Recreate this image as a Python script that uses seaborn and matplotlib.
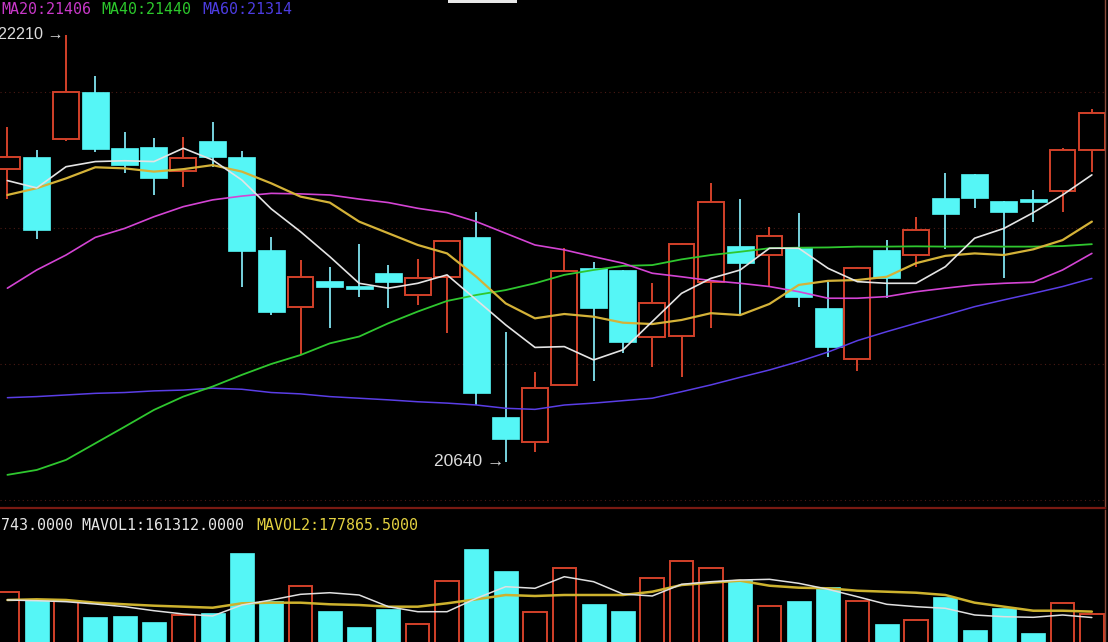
import numpy as np
import pandas as pd
import matplotlib
matplotlib.use("Agg")
import matplotlib.pyplot as plt
import seaborn as sns
from matplotlib.patches import Rectangle

# ---- data ----
open_ = [21717, 21762, 21827, 22000, 21794, 21799, 21710, 21821, 21762, 21419,
         21210, 21306, 21287, 21333, 21253, 21320, 21467, 20805, 20713, 20922,
         21351, 21345, 21097, 21102, 21302, 21433, 21400, 21427, 21204, 21016,
         21419, 21400, 21611, 21697, 21600, 21605, 21636, 21787]
high = [21872, 21787, 22210, 22060, 21852, 21832, 21836, 21890, 21784, 21467,
        21382, 21357, 21441, 21363, 21384, 21455, 21557, 21118, 20971, 21427,
        21376, 21345, 21296, 21445, 21664, 21606, 21502, 21554, 21302, 21355,
        21455, 21541, 21703, 21697, 21600, 21639, 21793, 21936]
low = [21606, 21459, 21821, 21780, 21701, 21621, 21652, 21725, 21283, 21179,
       21032, 21130, 21247, 21204, 21216, 21112, 20848, 20640, 20676, 20922,
       20938, 21038, 20989, 20952, 21130, 21179, 21283, 21210, 21024, 20974,
       21241, 21357, 21421, 21572, 21314, 21523, 21560, 21706]
close = [21762, 21492, 22000, 21790, 21731, 21682, 21756, 21760, 21416, 21192,
         21320, 21283, 21274, 21300, 21317, 21453, 20893, 20722, 20910, 21342,
         21204, 21081, 21225, 21440, 21594, 21370, 21471, 21247, 21063, 21351,
         21314, 21492, 21551, 21609, 21560, 21596, 21787, 21922]

ma5 = [21674, 21647, 21725, 21744, 21747, 21744, 21793, 21750, 21676, 21570,
       21486, 21394, 21296, 21278, 21296, 21327, 21235, 21143, 21060, 21063,
       21014, 21051, 21155, 21259, 21314, 21345, 21425, 21425, 21351, 21302,
       21296, 21296, 21357, 21462, 21498, 21556, 21621, 21695]
ma10 = [21621, 21646, 21682, 21723, 21719, 21707, 21716, 21731, 21707, 21664,
        21615, 21593, 21523, 21480, 21437, 21406, 21320, 21222, 21167, 21183,
        21173, 21151, 21146, 21161, 21186, 21179, 21220, 21290, 21305, 21308,
        21320, 21370, 21397, 21406, 21400, 21421, 21455, 21523]
ma20 = [21278, 21345, 21400, 21465, 21498, 21541, 21578, 21603, 21617, 21627,
        21625, 21621, 21606, 21593, 21572, 21556, 21523, 21480, 21437, 21419,
        21394, 21370, 21333, 21320, 21306, 21296, 21284, 21265, 21241, 21241,
        21247, 21265, 21278, 21290, 21296, 21300, 21345, 21406]
ma40 = [20591, 20609, 20646, 20707, 20768, 20830, 20879, 20916, 20959, 20999,
        21032, 21075, 21100, 21149, 21192, 21231, 21253, 21271, 21296, 21327,
        21345, 21360, 21363, 21384, 21400, 21412, 21425, 21427, 21428, 21431,
        21431, 21432, 21431, 21432, 21431, 21431, 21433, 21440]
ma60 = [20875, 20879, 20885, 20891, 20894, 20900, 20903, 20910, 20906, 20894,
        20889, 20879, 20873, 20867, 20860, 20855, 20848, 20836, 20832, 20848,
        20855, 20864, 20873, 20897, 20922, 20950, 20977, 21008, 21043, 21085,
        21118, 21149, 21179, 21210, 21235, 21259, 21284, 21314]

volume = [232000, 212400, 207600, 161900, 166400, 149600, 168400, 174800, 341500, 208500,
          250600, 179600, 133800, 185200, 142300, 264600, 352700, 292700, 175900, 299400,
          199200, 179600, 271300, 320700, 299400, 266600, 193600, 207600, 246100, 207600,
          142300, 154300, 219700, 126300, 187200, 117000, 202900, 171200]
mavol1 = [210500, 208500, 205700, 199200, 191700, 180400, 171200, 165600, 196400, 210500,
          226400, 230900, 224500, 191700, 177600, 177600, 215200, 247800, 243300, 275800,
          261800, 227300, 221700, 254500, 261800, 266600, 268500, 257300, 240500, 219700,
          198400, 191700, 187200, 168400, 163600, 161900, 168400, 161312]
mavol2 = [210500, 212400, 210500, 202900, 198400, 194500, 191700, 188800, 201200, 202900,
          202900, 198400, 196400, 191700, 191700, 201200, 212400, 224500, 221700, 224500,
          224500, 224500, 233700, 252500, 259000, 264600, 250600, 245000, 243300, 236500,
          233700, 230900, 224500, 202900, 191700, 180400, 180400, 177865.5]

grid_levels = [22000, 21500, 21000, 20500]
ma_labels = ["MA20:21406", "MA40:21440", "MA60:21314"]
vol_label_1 = "743.0000 MAVOL1:161312.0000"
vol_label_2 = "MAVOL2:177865.5000"
high_label = "22210 \u2192"
low_label = "20640 \u2192"

# ---- style ----
sns.set_style("dark", {"axes.facecolor": "black", "figure.facecolor": "black"})
plt.rcParams["font.family"] = ["DejaVu Sans"]

CYAN = "#55f6f6"
CYAN_WICK = "#78d2de"
RED = "#d2412a"
BORDER = "#7a1a12"

df = pd.DataFrame({"i": np.arange(len(close)), "open": open_, "high": high,
                   "low": low, "close": close, "ma5": ma5, "ma10": ma10,
                   "ma20": ma20, "ma40": ma40, "ma60": ma60, "vol": volume,
                   "mavol1": mavol1, "mavol2": mavol2})
up = df["close"] >= df["open"]
dn = ~up

W, H = 1108, 642
fig = plt.figure(figsize=(W / 100, H / 100), dpi=100)
fig.patch.set_facecolor("black")
ax = fig.add_axes([0, 1 - 508 / H, 1105 / W, 508 / H])
axv = fig.add_axes([0, 0, 1105 / W, 132 / H])

xl = (-0.2525, 37.448)

# ---- price panel ----
for g in grid_levels:
    ax.axhline(g, color="#4a1a14", lw=0.8, ls=(0, (1, 3)), zorder=0)

ax.vlines(df.loc[dn, "i"], df.loc[dn, "low"], df.loc[dn, "high"], color=CYAN_WICK, lw=1.4, zorder=1)
ax.vlines(df.loc[up, "i"], df.loc[up, "close"], df.loc[up, "high"], color=RED, lw=1.4, zorder=1)
ax.vlines(df.loc[up, "i"], df.loc[up, "low"], df.loc[up, "open"], color=RED, lw=1.4, zorder=1)
ax.bar(df.loc[dn, "i"], df.loc[dn, "open"] - df.loc[dn, "close"], bottom=df.loc[dn, "close"],
       width=0.92, color=CYAN, edgecolor=CYAN, lw=0.5, zorder=2)
ax.bar(df.loc[up, "i"], df.loc[up, "close"] - df.loc[up, "open"], bottom=df.loc[up, "open"],
       width=0.88, facecolor="black", edgecolor=RED, lw=1.4, zorder=2)

for col, c, lw in [("ma60", "#5a3ee6", 1.1), ("ma40", "#2fc72f", 1.3), ("ma20", "#d444d4", 1.2),
                   ("ma10", "#d4b238", 1.6), ("ma5", "#e4e4e4", 1.2)]:
    sns.lineplot(data=df, x="i", y=col, color=c, lw=lw, ax=ax, zorder=3, legend=False)

ax.annotate(high_label, xy=(2, 22210), xytext=(-1.5, 0), textcoords="offset points",
            ha="right", va="center", color="#dcdcdc", fontsize=11.6,
            family=["Liberation Sans", "DejaVu Sans"], zorder=5)
ax.annotate(low_label, xy=(17, 20640), xytext=(-1, 0), textcoords="offset points",
            ha="right", va="center", color="#dcdcdc", fontsize=12.5,
            family=["Liberation Sans", "DejaVu Sans"], zorder=5)

ax.set_xlim(*xl)
ax.set_ylim(20469, 22338.6)
ax.set_xticks([]); ax.set_yticks([])
ax.set_xlabel(""); ax.set_ylabel("")
for s in ["top", "left"]:
    ax.spines[s].set_visible(False)
ax.spines["bottom"].set_color(BORDER); ax.spines["bottom"].set_linewidth(1.6)
ax.spines["right"].set_color("#8a4a3a"); ax.spines["right"].set_linewidth(1.0)

# ---- volume panel ----
axv.bar(df.loc[dn, "i"], df.loc[dn, "vol"], width=0.82, color=CYAN, edgecolor=CYAN, lw=0.5, zorder=2)
axv.bar(df.loc[up, "i"], df.loc[up, "vol"], width=0.80, facecolor="black", edgecolor=RED, lw=1.4, zorder=2)
sns.lineplot(data=df, x="i", y="mavol2", color="#cdb22e", lw=1.8, ax=axv, zorder=3, legend=False)
sns.lineplot(data=df, x="i", y="mavol1", color="#e0e0e0", lw=1.1, ax=axv, zorder=3, legend=False)
axv.set_xlim(*xl)
axv.set_ylim(92600, 463000)
axv.set_xticks([]); axv.set_yticks([])
axv.set_xlabel(""); axv.set_ylabel("")
for s in ["top", "left", "bottom"]:
    axv.spines[s].set_visible(False)
axv.spines["right"].set_color("#8a4a3a"); axv.spines["right"].set_linewidth(1.0)

# ---- header texts ----
mono = ["DejaVu Sans Mono"]
ty = 1 - 9 / H
for lab, xpx, c in zip(ma_labels, [1, 101, 202], ["#c838c8", "#2cc82c", "#4c3ce0"]):
    fig.text(xpx / W, ty, lab, color=c, fontsize=10.8, family=mono, ha="left", va="center")
vy = 1 - 526 / H
fig.text(1 / W, vy, vol_label_1, color="#e6e6e6", fontsize=10.8, family=mono, ha="left", va="center")
fig.text(256 / W, vy, vol_label_2, color="#e2d040", fontsize=10.8, family=mono, ha="left", va="center")

fig.patches.append(Rectangle((448 / W, 1 - 3 / H), 69 / W, 3 / H, transform=fig.transFigure,
                             facecolor="#e8e8e8", edgecolor="none"))

fig.savefig("out.png", dpi=100, facecolor="black")
